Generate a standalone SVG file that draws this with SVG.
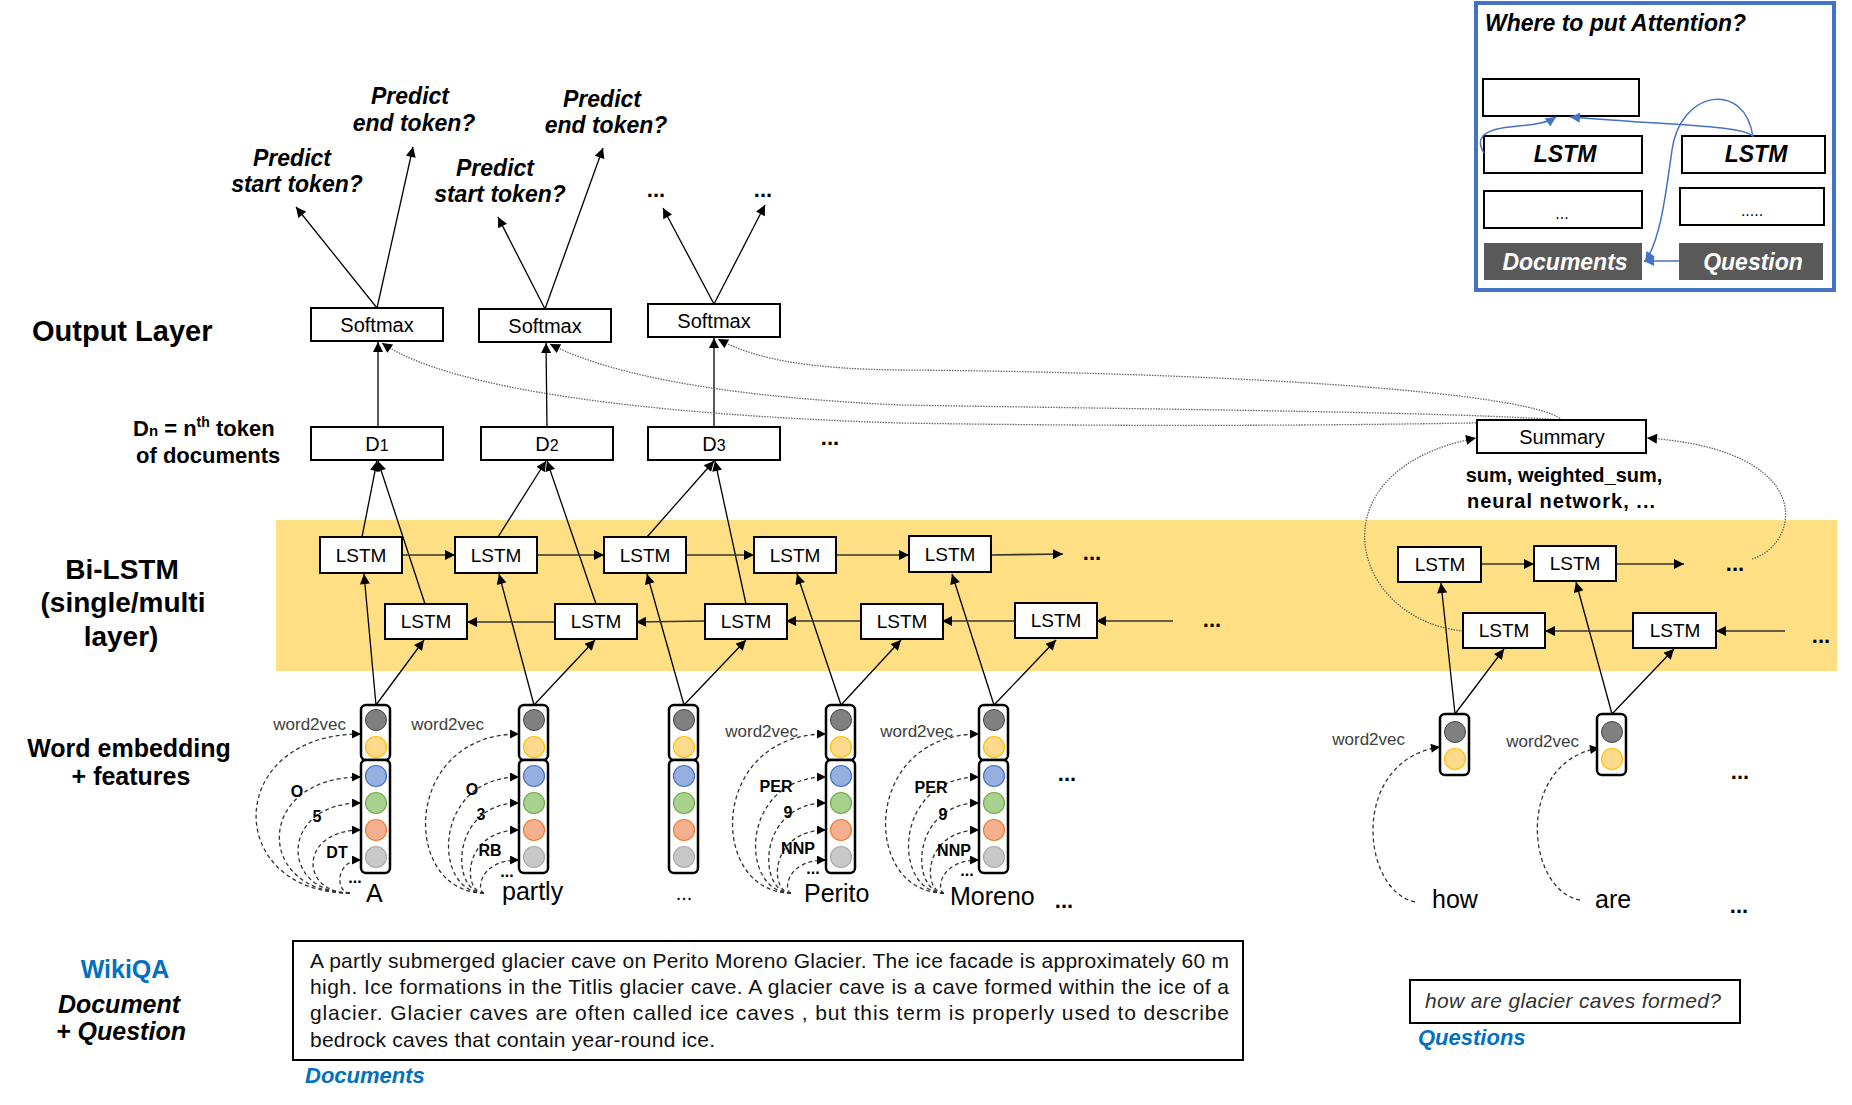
<svg xmlns="http://www.w3.org/2000/svg" xmlns:xlink="http://www.w3.org/1999/xlink" width="1852" height="1105" viewBox="0 0 1852 1105">
<style>
.f{font-family:"Liberation Sans",Arial,Helvetica,sans-serif}
.b{font-weight:bold}
.i{font-style:italic}
.box{fill:#fff;stroke:#000;stroke-width:2}
.dark{fill:#595959}
.ln{fill:none;stroke:#000;stroke-width:1.3}
.hz{fill:none;stroke:#333;stroke-width:1.6}
.dot{fill:none;stroke:#666;stroke-width:1.3;stroke-dasharray:1.5 1.2}
.dash{fill:none;stroke:#333;stroke-width:1.3;stroke-dasharray:4 3}
.blue{fill:none;stroke:#4472C4;stroke-width:1.5}
.colr{fill:#fff;stroke:#000;stroke-width:2.5}
.c1{fill:#808080;stroke:#404040;stroke-width:1}
.c2{fill:#FFD98C;stroke:#FFC000;stroke-width:1.2}
.c3{fill:#97AEE0;stroke:#4472C4;stroke-width:1.2}
.c4{fill:#A9D18E;stroke:#70AD47;stroke-width:1.2}
.c5{fill:#F4B08E;stroke:#ED7D31;stroke-width:1.2}
.c6{fill:#C8C8C8;stroke:#AAAAAA;stroke-width:1.2}
.lbl{font-size:19px}
.w2v{font-size:17px;fill:#404040}
.ft{font-size:16px;font-weight:bold}
.word{font-size:25px}
.dots{font-size:22px;font-weight:bold}
.para{font-size:21px;fill:#111}
</style>
<defs>
<marker id="ah" viewBox="0 0 10 10" refX="10" refY="5" markerWidth="11" markerHeight="10" markerUnits="userSpaceOnUse" orient="auto"><path d="M0,0L10,5L0,10z" fill="#000"/></marker>
<marker id="ahs" viewBox="0 0 10 10" refX="10" refY="5" markerWidth="10" markerHeight="9" markerUnits="userSpaceOnUse" orient="auto"><path d="M0,0L10,5L0,10z" fill="#000"/></marker>
<marker id="ahb" viewBox="0 0 10 10" refX="10" refY="5" markerWidth="12" markerHeight="10" markerUnits="userSpaceOnUse" orient="auto"><path d="M0,0L10,5L0,10z" fill="#4472C4"/></marker>
<g id="col6">
<rect class="colr" x="-15" y="705" width="29" height="55" rx="5"/>
<rect class="colr" x="-15" y="760" width="29" height="113" rx="5"/>
<circle class="c1" cx="0" cy="720" r="10.5"/>
<circle class="c2" cx="0" cy="747" r="10.5"/>
<circle class="c3" cx="0" cy="776" r="10.5"/>
<circle class="c4" cx="0" cy="803" r="10.5"/>
<circle class="c5" cx="0" cy="830" r="10.5"/>
<circle class="c6" cx="0" cy="857" r="10.5"/>
</g>
<g id="col2">
<rect class="colr" x="-15" y="714" width="29" height="61" rx="5"/>
<circle class="c1" cx="0" cy="732" r="10.5"/>
<circle class="c2" cx="0" cy="759" r="10.5"/>
</g>
<g id="curvesA">
<path class="dash" marker-end="url(#ahs)" d="M-26,893 C-153,893 -153,734 -15,734"/>
<path class="dash" marker-end="url(#ahs)" d="M-26,893 C-122,893 -122,777 -15,777"/>
<path class="dash" marker-end="url(#ahs)" d="M-26,893 C-97,893 -97,803 -15,803"/>
<path class="dash" marker-end="url(#ahs)" d="M-26,893 C-77,893 -77,830 -15,830"/>
<path class="dash" marker-end="url(#ahs)" d="M-26,893 C-41,893 -41,860 -15,860"/>
</g>
<g id="curvesB">
<path class="dash" marker-end="url(#ahs)" d="M-50,893 C-133,893 -133,734 -15,734"/>
<path class="dash" marker-end="url(#ahs)" d="M-50,893 C-102,893 -102,777 -15,777"/>
<path class="dash" marker-end="url(#ahs)" d="M-50,893 C-84,893 -84,803 -15,803"/>
<path class="dash" marker-end="url(#ahs)" d="M-50,893 C-72,893 -72,830 -15,830"/>
<path class="dash" marker-end="url(#ahs)" d="M-50,893 C-57,893 -57,860 -15,860"/>
</g>
</defs>

<rect x="0" y="0" width="1852" height="1105" fill="#fff"/>
<rect id="bilstm-band" x="276" y="520" width="1561" height="151" fill="#FFDF84"/>

<g id="labels-left" class="f b">
<text x="32" y="341" font-size="29">Output Layer</text>
<text x="133" y="436" font-size="22">D<tspan font-size="15">n</tspan> = n<tspan font-size="14" dy="-9">th</tspan><tspan dy="9"> token</tspan></text>
<text x="136" y="463" font-size="22">of documents</text>
<text x="122" y="579" font-size="28" text-anchor="middle">Bi-LSTM</text>
<text x="123" y="612" font-size="28" text-anchor="middle">(single/multi</text>
<text x="121" y="646" font-size="28" text-anchor="middle">layer)</text>
<text x="129" y="757" font-size="25" text-anchor="middle">Word embedding</text>
<text x="131" y="785" font-size="25" text-anchor="middle">+ features</text>
<text x="125" y="978" font-size="25" fill="#0070C0" text-anchor="middle">WikiQA</text>
<text x="119" y="1013" font-size="25" class="i" text-anchor="middle">Document</text>
<text x="121" y="1040" font-size="25" class="i" text-anchor="middle">+ Question</text>
</g>

<g id="connectors">
<path class="ln" marker-end="url(#ah)" d="M377,308 L296,207"/>
<path class="ln" marker-end="url(#ah)" d="M377,308 L413,147"/>
<path class="ln" marker-end="url(#ah)" d="M545,309 L498,217"/>
<path class="ln" marker-end="url(#ah)" d="M545,309 L603,148"/>
<path class="ln" marker-end="url(#ah)" d="M714,304 L663,208"/>
<path class="ln" marker-end="url(#ah)" d="M714,304 L765,205"/>
<path class="ln" marker-end="url(#ah)" d="M378,427 L378,342"/>
<path class="ln" marker-end="url(#ah)" d="M547,427 L546,343"/>
<path class="ln" marker-end="url(#ah)" d="M714,427 L714,338"/>
<path class="dot" marker-end="url(#ah)" d="M1562,421 C1450,424 1200,428 900,423 C650,415 450,390 382,343"/>
<path class="dot" marker-end="url(#ah)" d="M1562,420 C1450,412 1200,410 900,405 C750,398 620,380 550,344"/>
<path class="dot" marker-end="url(#ah)" d="M1562,420 C1530,390 1200,372 900,370 C820,369 760,362 718,339"/>
<path class="ln" marker-end="url(#ah)" d="M362,537 L377,461"/>
<path class="ln" marker-end="url(#ah)" d="M425,604 L378,461"/>
<path class="ln" marker-end="url(#ah)" d="M498,537 L546,461"/>
<path class="ln" marker-end="url(#ah)" d="M596,604 L547,461"/>
<path class="ln" marker-end="url(#ah)" d="M647,537 L714,461"/>
<path class="ln" marker-end="url(#ah)" d="M746,604 L715,461"/>
<path class="ln" marker-end="url(#ah)" d="M376,705 L364,574"/>
<path class="ln" marker-end="url(#ah)" d="M376,705 L424,640"/>
<path class="ln" marker-end="url(#ah)" d="M534,705 L499,574"/>
<path class="ln" marker-end="url(#ah)" d="M534,705 L595,640"/>
<path class="ln" marker-end="url(#ah)" d="M684,705 L647,574"/>
<path class="ln" marker-end="url(#ah)" d="M684,705 L746,640"/>
<path class="ln" marker-end="url(#ah)" d="M841,705 L797,574"/>
<path class="ln" marker-end="url(#ah)" d="M841,705 L901,640"/>
<path class="ln" marker-end="url(#ah)" d="M994,705 L952,574"/>
<path class="ln" marker-end="url(#ah)" d="M994,705 L1056,640"/>
<path class="ln" marker-end="url(#ah)" d="M1455,714 L1441,583"/>
<path class="ln" marker-end="url(#ah)" d="M1455,714 L1504,649"/>
<path class="ln" marker-end="url(#ah)" d="M1612,714 L1576,582"/>
<path class="ln" marker-end="url(#ah)" d="M1612,714 L1674,649"/>
<path class="hz" marker-end="url(#ah)" d="M402,555 L455,555"/>
<path class="hz" marker-end="url(#ah)" d="M537,555 L604,555"/>
<path class="hz" marker-end="url(#ah)" d="M686,555 L754,555"/>
<path class="hz" marker-end="url(#ah)" d="M836,555 L909,555"/>
<path class="hz" marker-end="url(#ah)" d="M990,555 L1063,554"/>
<path class="hz" marker-end="url(#ah)" d="M1173,621 L1096,621"/>
<path class="hz" marker-end="url(#ah)" d="M1015,621 L942,621"/>
<path class="hz" marker-end="url(#ah)" d="M861,621 L786,621"/>
<path class="hz" marker-end="url(#ah)" d="M705,621 L636,622"/>
<path class="hz" marker-end="url(#ah)" d="M555,622 L467,622"/>
<path class="hz" marker-end="url(#ah)" d="M1481,564 L1534,564"/>
<path class="hz" marker-end="url(#ah)" d="M1616,564 L1684,564"/>
<path class="hz" marker-end="url(#ah)" d="M1785,631 L1716,631"/>
<path class="hz" marker-end="url(#ah)" d="M1633,631 L1545,631"/>
<path class="dot" marker-end="url(#ah)" d="M1463,631 C1350,620 1310,470 1476,438"/>
<path class="dot" marker-end="url(#ah)" d="M1752,559 C1800,545 1820,450 1647,438"/>
<use xlink:href="#curvesA" x="376"/>
<use xlink:href="#curvesB" x="534"/>
<use xlink:href="#curvesB" x="841"/>
<use xlink:href="#curvesB" x="994"/>
<path class="dash" marker-end="url(#ahs)" d="M1415,902 C1360,890 1350,760 1440,747"/>
<path class="dash" marker-end="url(#ahs)" d="M1580,900 C1525,890 1515,762 1599,748"/>
</g>

<g id="predict-labels" class="f b i" font-size="23" text-anchor="middle">
<text x="292" y="166">Predict</text>
<text x="297" y="192">start token?</text>
<text x="410" y="104">Predict</text>
<text x="414" y="131">end token?</text>
<text x="495" y="176">Predict</text>
<text x="500" y="202">start token?</text>
<text x="602" y="107">Predict</text>
<text x="606" y="133">end token?</text>
</g>
<g id="dots" class="f dots" text-anchor="middle">
<text x="656" y="197">...</text>
<text x="763" y="197">...</text>
<text x="830" y="445">...</text>
<text x="1092" y="560">...</text>
<text x="1212" y="627">...</text>
<text x="1067" y="781">...</text>
<text x="1064" y="908">...</text>
<text x="1735" y="571">...</text>
<text x="1821" y="643">...</text>
<text x="1740" y="779">...</text>
<text x="1739" y="913">...</text>
</g>

<g id="softmax1"><rect class="box" x="311" y="308" width="132" height="33"/><text class="f" font-size="20" x="377" y="332" text-anchor="middle">Softmax</text></g>
<g id="softmax2"><rect class="box" x="479" y="309" width="132" height="33"/><text class="f" font-size="20" x="545" y="333" text-anchor="middle">Softmax</text></g>
<g id="softmax3"><rect class="box" x="648" y="304" width="132" height="33"/><text class="f" font-size="20" x="714" y="328" text-anchor="middle">Softmax</text></g>
<g id="d1"><rect class="box" x="311" y="427" width="132" height="33"/><text class="f" font-size="20" x="377" y="451" text-anchor="middle">D<tspan font-size="16">1</tspan></text></g>
<g id="d2"><rect class="box" x="481" y="427" width="132" height="33"/><text class="f" font-size="20" x="547" y="451" text-anchor="middle">D<tspan font-size="16">2</tspan></text></g>
<g id="d3"><rect class="box" x="648" y="427" width="132" height="33"/><text class="f" font-size="20" x="714" y="451" text-anchor="middle">D<tspan font-size="16">3</tspan></text></g>

<g id="summary"><rect class="box" x="1477" y="420" width="169" height="33"/><text class="f" font-size="20" x="1562" y="444" text-anchor="middle">Summary</text>
<text class="f b" font-size="20" x="1564" y="482" text-anchor="middle">sum, weighted_sum,</text>
<text class="f b" font-size="20" x="1561" y="508" text-anchor="middle" textLength="188" lengthAdjust="spacing">neural network, ...</text></g>

<g id="lstm-doc" class="f lbl" text-anchor="middle">
<g id="lstm-t1"><rect class="box" x="320" y="537" width="82" height="36"/><text x="361" y="562">LSTM</text></g>
<g id="lstm-t2"><rect class="box" x="455" y="537" width="82" height="36"/><text x="496" y="562">LSTM</text></g>
<g id="lstm-t3"><rect class="box" x="604" y="537" width="82" height="36"/><text x="645" y="562">LSTM</text></g>
<g id="lstm-t4"><rect class="box" x="754" y="537" width="82" height="36"/><text x="795" y="562">LSTM</text></g>
<g id="lstm-t5"><rect class="box" x="909" y="536" width="82" height="36"/><text x="950" y="561">LSTM</text></g>
<g id="lstm-b1"><rect class="box" x="385" y="604" width="82" height="35"/><text x="426" y="628">LSTM</text></g>
<g id="lstm-b2"><rect class="box" x="555" y="604" width="82" height="35"/><text x="596" y="628">LSTM</text></g>
<g id="lstm-b3"><rect class="box" x="705" y="604" width="82" height="35"/><text x="746" y="628">LSTM</text></g>
<g id="lstm-b4"><rect class="box" x="861" y="604" width="82" height="35"/><text x="902" y="628">LSTM</text></g>
<g id="lstm-b5"><rect class="box" x="1015" y="603" width="82" height="35"/><text x="1056" y="627">LSTM</text></g>
<g id="lstm-qt1"><rect class="box" x="1398" y="547" width="83" height="35"/><text x="1440" y="571">LSTM</text></g>
<g id="lstm-qt2"><rect class="box" x="1534" y="546" width="82" height="35"/><text x="1575" y="570">LSTM</text></g>
<g id="lstm-qb1"><rect class="box" x="1463" y="613" width="82" height="35"/><text x="1504" y="637">LSTM</text></g>
<g id="lstm-qb2"><rect class="box" x="1633" y="613" width="83" height="35"/><text x="1675" y="637">LSTM</text></g>
</g>

<g id="emb-A"><use xlink:href="#col6" x="376"/></g>
<g id="emb-partly"><use xlink:href="#col6" x="534"/></g>
<g id="emb-dots"><use xlink:href="#col6" x="684"/></g>
<g id="emb-Perito"><use xlink:href="#col6" x="841"/></g>
<g id="emb-Moreno"><use xlink:href="#col6" x="994"/></g>
<g id="emb-how"><use xlink:href="#col2" x="1455"/></g>
<g id="emb-are"><use xlink:href="#col2" x="1612"/></g>

<g id="emb-labels" class="f">
<text class="w2v" x="346" y="730" text-anchor="end">word2vec</text>
<text class="ft" x="297" y="797" text-anchor="middle">O</text>
<text class="ft" x="317" y="822" text-anchor="middle">5</text>
<text class="ft" x="337" y="858" text-anchor="middle">DT</text>
<text class="ft" x="355" y="883" text-anchor="middle">...</text>
<text class="w2v" x="484" y="730" text-anchor="end">word2vec</text>
<text class="ft" x="472" y="795" text-anchor="middle">O</text>
<text class="ft" x="481" y="820" text-anchor="middle">3</text>
<text class="ft" x="490" y="856" text-anchor="middle">RB</text>
<text class="ft" x="507" y="877" text-anchor="middle">...</text>
<text class="w2v" x="798" y="737" text-anchor="end">word2vec</text>
<text class="ft" x="776" y="792" text-anchor="middle">PER</text>
<text class="ft" x="788" y="818" text-anchor="middle">9</text>
<text class="ft" x="798" y="854" text-anchor="middle">NNP</text>
<text class="ft" x="813" y="874" text-anchor="middle">...</text>
<text class="w2v" x="953" y="737" text-anchor="end">word2vec</text>
<text class="ft" x="931" y="793" text-anchor="middle">PER</text>
<text class="ft" x="943" y="820" text-anchor="middle">9</text>
<text class="ft" x="954" y="856" text-anchor="middle">NNP</text>
<text class="ft" x="967" y="876" text-anchor="middle">...</text>
<text class="w2v" x="1405" y="745" text-anchor="end">word2vec</text>
<text class="w2v" x="1579" y="747" text-anchor="end">word2vec</text>
<text class="word" x="366" y="902">A</text>
<text class="word" x="502" y="900">partly</text>
<text x="684" y="900" font-size="20" text-anchor="middle">...</text>
<text class="word" x="804" y="902">Perito</text>
<text class="word" x="950" y="905">Moreno</text>
<text class="word" x="1432" y="908">how</text>
<text class="word" x="1595" y="908">are</text>
</g>

<g id="document-box" class="f">
<rect class="box" x="293" y="941" width="950" height="119"/>
<text class="para" x="310" y="968" textLength="919" lengthAdjust="spacing">A partly submerged glacier cave on Perito Moreno Glacier. The ice facade is approximately 60 m</text>
<text class="para" x="310" y="994" textLength="919" lengthAdjust="spacing">high. Ice formations in the Titlis glacier cave. A glacier cave is a cave formed within the ice of a</text>
<text class="para" x="310" y="1020" textLength="919" lengthAdjust="spacing">glacier. Glacier caves are often called ice caves , but this term is properly used to describe</text>
<text class="para" x="310" y="1047" textLength="405" lengthAdjust="spacing">bedrock caves that contain year-round ice.</text>
<text x="305" y="1083" font-size="22" class="b i" fill="#0070C0">Documents</text>
</g>

<g id="question-box" class="f">
<rect class="box" x="1410" y="980" width="330" height="43"/>
<text x="1425" y="1008" font-size="21" class="i" fill="#333" textLength="296" lengthAdjust="spacing">how are glacier caves formed?</text>
<text x="1418" y="1045" font-size="22" class="b i" fill="#0070C0">Questions</text>
</g>

<g id="attention-box" class="f">
<rect x="1476" y="3" width="358" height="287" fill="#fff" stroke="#4472C4" stroke-width="4"/>
<text x="1485" y="31" font-size="23" class="b i">Where to put Attention?</text>
<rect class="box" x="1483" y="79" width="156" height="37"/>
<rect class="box" x="1484" y="136" width="158" height="37"/>
<text x="1565" y="162" font-size="23" class="b i" text-anchor="middle">LSTM</text>
<rect class="box" x="1682" y="136" width="143" height="37"/>
<text x="1756" y="162" font-size="23" class="b i" text-anchor="middle">LSTM</text>
<rect class="box" x="1484" y="191" width="158" height="37"/>
<text x="1562" y="219" font-size="16" text-anchor="middle">...</text>
<rect class="box" x="1680" y="188" width="144" height="37"/>
<text x="1752" y="216" font-size="16" text-anchor="middle">.....</text>
<rect class="dark" x="1484" y="243" width="158" height="37"/>
<text x="1565" y="270" font-size="23" class="b i" fill="#fff" text-anchor="middle">Documents</text>
<rect class="dark" x="1679" y="243" width="144" height="37"/>
<text x="1753" y="270" font-size="23" class="b i" fill="#fff" text-anchor="middle">Question</text>
<path class="blue" marker-end="url(#ahb)" d="M1679,261 L1644,261"/>
<path class="blue" marker-end="url(#ahb)" d="M1753,137 C1745,80 1680,90 1672,150 C1665,200 1660,240 1645,262"/>
<path class="blue" marker-end="url(#ahb)" d="M1753,136 C1740,126 1700,127 1570,117"/>
<path class="blue" marker-end="url(#ahb)" d="M1484,153 C1476,140 1480,130 1510,127 C1530,125 1545,124 1556,117"/>
</g>
</svg>
